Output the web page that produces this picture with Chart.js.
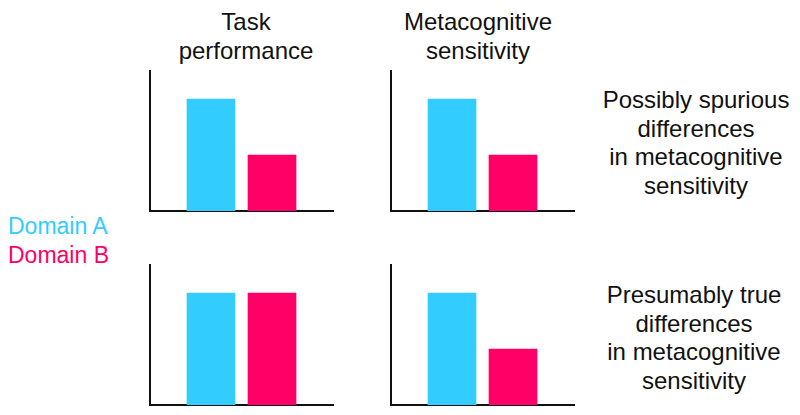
<!DOCTYPE html>
<html>
<head>
<meta charset="utf-8">
<script src="https://cdn.jsdelivr.net/npm/chart.js@4"></script>
<style>
	body { margin: 0; background: #fff; font-family: 'Liberation Sans', Arial, sans-serif; }
	#page { position: relative; width: 800px; height: 415px; overflow: hidden; }
	.box { position: absolute; }
	.txt { position: absolute; text-align: center; color: #111; font-size: 24px; line-height: 29px; white-space: nowrap; }
	.dom { position: absolute; left: 8px; font-size: 23px; line-height: 29px; }
</style>
</head>
<body>
<div id="page">
	<div class="txt" style="left:146px; top:7px; width:200px;">Task<br>performance</div>
	<div class="txt" style="left:378px; top:7px; width:200px;">Metacognitive<br>sensitivity</div>
	<div class="txt" style="left:596px; top:86px; width:200px; line-height:28.5px;">Possibly spurious<br>differences<br>in metacognitive<br>sensitivity</div>
	<div class="txt" style="left:594px; top:281px; width:200px; line-height:28.5px;">Presumably true<br>differences<br>in metacognitive<br>sensitivity</div>
	<div class="dom" style="top:212px; color:#33ccff;">Domain A</div>
	<div class="dom" style="top:241px; color:#ff0066;">Domain B</div>

	<div class="box" style="left:146px; top:67px; width:191px; height:148px;"><canvas id="taskTop"></canvas></div>
	<div class="box" style="left:387px; top:67px; width:191px; height:148px;"><canvas id="metaTop"></canvas></div>
	<div class="box" style="left:146px; top:261px; width:191px; height:148px;"><canvas id="taskBottom"></canvas></div>
	<div class="box" style="left:387px; top:261px; width:191px; height:148px;"><canvas id="metaBottom"></canvas></div>
</div>
<script>
// bar heights as a share of the axis height
var categories = ['Domain A', 'Domain B'];
var barSlots = [1, 2];
var taskTopValues = [0.8, 0.4];
var metaTopValues = [0.8, 0.4];
var taskBottomValues = [0.8, 0.8];
var metaBottomValues = [0.8, 0.4];
var barColors = ['#33ccff', '#ff0066'];

function drawPanel(id, values) {
	var points = values.map(function (v, i) {
		return { x: barSlots[i], y: v, label: categories[i] };
	});

	new Chart(document.getElementById(id).getContext('2d'), {
		type: 'bar',
		data: {
			datasets: [{
				label: categories.join(' / '),
				data: points,
				backgroundColor: barColors,
				borderWidth: 0,
				barThickness: 48
			}]
		},
		options: {
			responsive: true,
			maintainAspectRatio: false,
			animation: false,
			layout: { padding: 4 },
			plugins: {
				legend: { display: false },
				tooltip: { enabled: false }
			},
			scales: {
				x: {
					type: 'linear',
					min: 0,
					max: 3,
					offset: false,
					ticks: { display: false },
					grid: { display: false, drawTicks: false },
					border: { display: true, color: '#111', width: 2 }
				},
				y: {
					min: 0,
					max: 1,
					ticks: { display: false },
					grid: { display: false, drawTicks: false },
					border: { display: true, color: '#111', width: 2 }
				}
			}
		}
	});
}

drawPanel('taskTop', taskTopValues);
drawPanel('metaTop', metaTopValues);
drawPanel('taskBottom', taskBottomValues);
drawPanel('metaBottom', metaBottomValues);
</script>
</body>
</html>
